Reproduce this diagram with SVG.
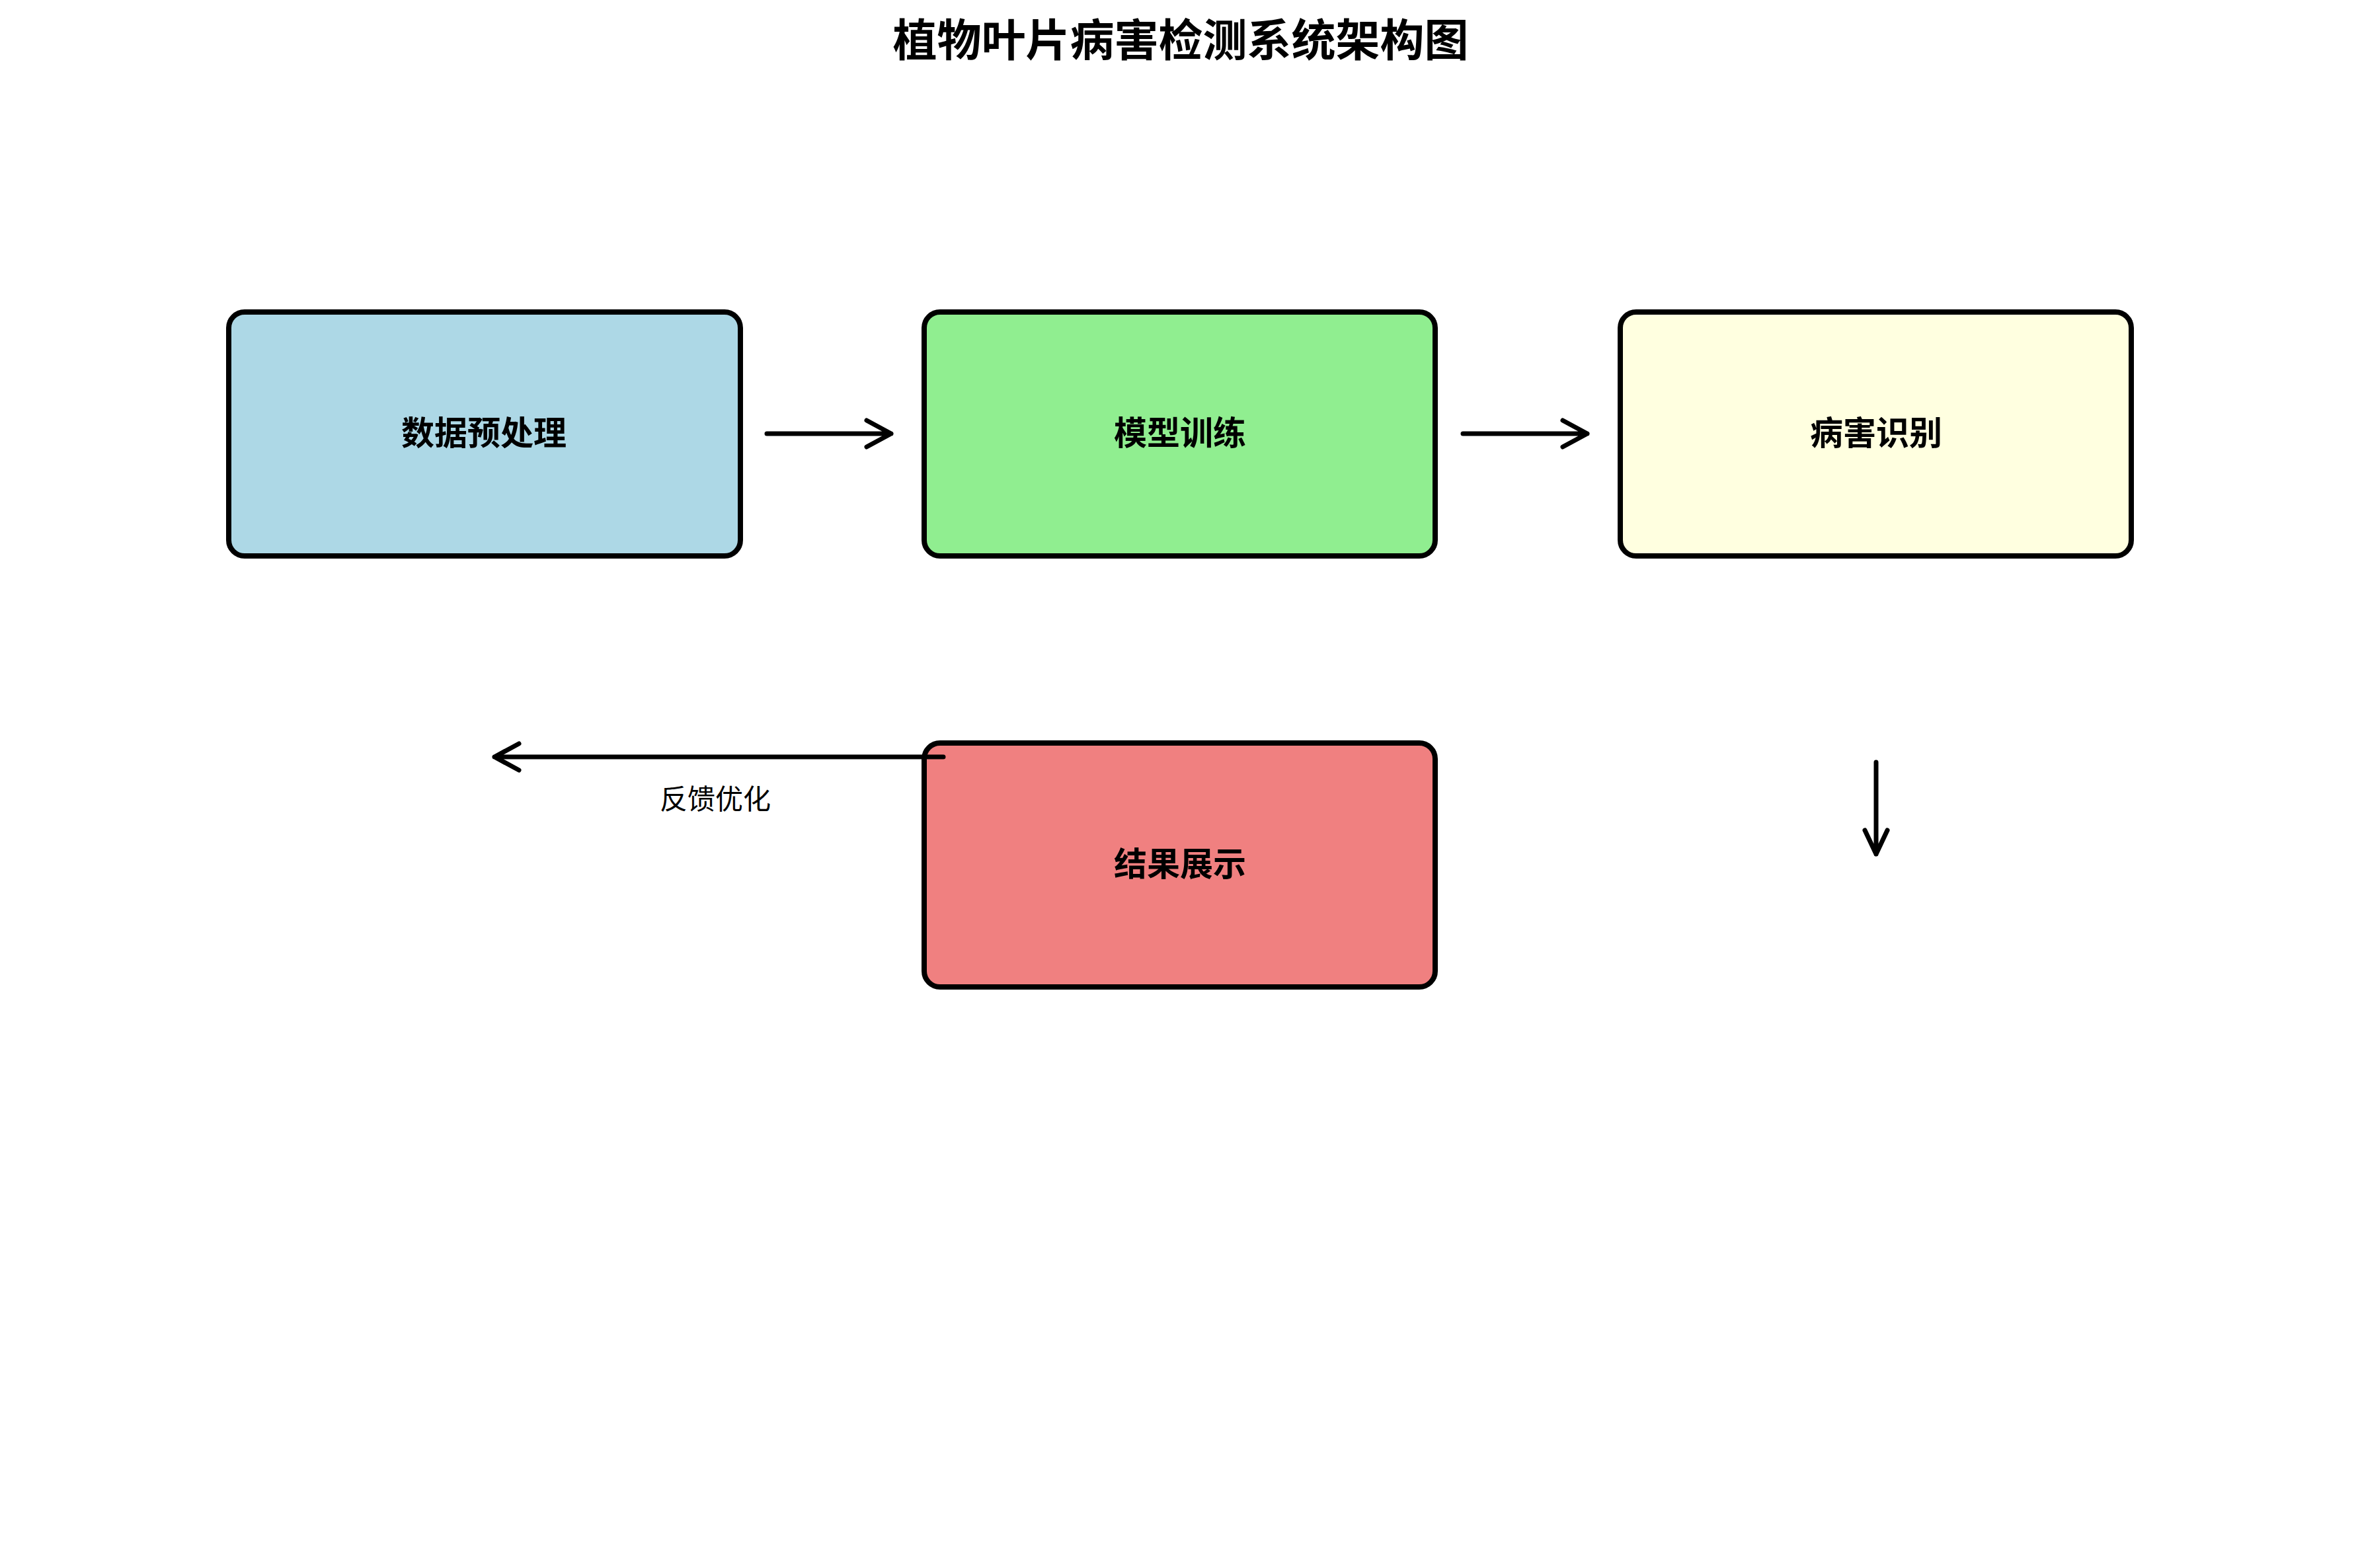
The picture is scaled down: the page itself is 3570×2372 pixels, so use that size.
<svg xmlns="http://www.w3.org/2000/svg" width="3570" height="2372" viewBox="0 0 3570 2372">
<style>
.box{stroke:#000;stroke-width:8}
.lbl{font-family:"Noto Sans CJK SC","Noto Sans",sans-serif;font-weight:bold;font-size:50px;text-anchor:middle}
.title{font-family:"Noto Sans CJK SC","Noto Sans",sans-serif;font-weight:bold;font-size:67px;text-anchor:middle}
.elbl{font-family:"Noto Sans CJK SC","Noto Sans",sans-serif;font-size:42px;text-anchor:middle}
.conn{stroke:#000;stroke-width:7;stroke-linecap:round;stroke-linejoin:round;fill:none}
</style>
<rect width="3570" height="2372" fill="#fff"/>
<text class="title" x="1786" y="85">植物叶片病害检测系统架构图</text>
<g id="node-preprocess">
<rect class="box" x="346" y="472" width="774" height="369" rx="24" fill="#ADD8E6"/>
<text class="lbl" x="732" y="673">数据预处理</text>
</g>
<g id="node-train">
<rect class="box" x="1398" y="472" width="773" height="369" rx="24" fill="#90EE90"/>
<text class="lbl" x="1785" y="673">模型训练</text>
</g>
<g id="node-identify">
<rect class="box" x="2451" y="472" width="773" height="369" rx="24" fill="#FFFFE0"/>
<text class="lbl" x="2838" y="673">病害识别</text>
</g>
<g id="node-result">
<rect class="box" x="1398" y="1124" width="773" height="369" rx="24" fill="#F08080"/>
<text class="lbl" x="1785" y="1325">结果展示</text>
</g>
<g id="connectors">
<path class="conn" d="M1160 656 H1348 M1311 636 L1348 656 L1311 676"/>
<path class="conn" d="M2213 656 H2401 M2364 636 L2401 656 L2364 676"/>
<path class="conn" d="M2838 1153 V1292 M2821 1256 L2838 1292 L2855 1256"/>
<path class="conn" d="M1427 1145 H748 M785 1125 L748 1145 L785 1165"/>
<text class="elbl" x="1082" y="1224">反馈优化</text>
</g>
</svg>
